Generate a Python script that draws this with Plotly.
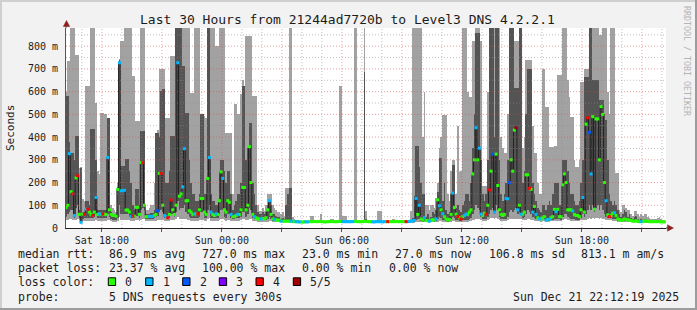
import plotly.graph_objects as go
import pandas as pd

# ---------------- data (ms), one row = one hour = 12 five-minute steps ----------------
STEP0 = "2025-12-20 16:10:00"
RANGE_START = "2025-12-20 16:12:19"
RANGE_END = "2025-12-21 22:12:19"

ping_min = [
    35,35,40,40,35,35,35,40,35,25,30,30,
    30,30,30,30,30,30,35,30,30,30,30,30,
    30,35,35,30,28,28,28,30,50,35,35,35,
    35,35,35,30,30,30,35,35,30,35,40,40,
    30,30,30,30,30,30,30,35,35,35,35,30,
    30,30,30,35,35,35,40,50,40,40,40,40,
    40,35,35,30,30,30,30,30,35,35,35,30,
    30,40,45,30,30,30,30,30,35,40,40,35,
    30,35,35,30,30,30,30,30,30,35,40,40,
    35,35,40,40,30,30,30,28,28,28,28,28,
    28,28,30,30,28,28,26,26,26,25,25,25,
    25,25,25,25,24,24,24,23,23,23,23,23,
    22,22,22,22,22,23,22,22,23,22,22,22,
    22,22,23,22,22,22,22,22,23,23,22,22,
    22,22,22,22,22,23,23,22,22,22,22,23,
    22,22,22,22,21,21,22,22,22,22,21,22,
    22,22,22,22,22,22,22,22,22,22,22,22,
    22,22,22,23,24,24,28,28,28,26,25,26,
    25,25,24,25,26,25,26,28,30,30,28,28,
    25,25,25,28,30,30,28,28,28,25,28,28,
    28,28,30,30,35,35,40,40,40,35,30,30,
    30,35,40,45,45,40,45,40,35,30,30,30,
    30,35,40,40,40,40,40,40,40,40,35,35,
    35,40,40,35,35,30,30,30,30,28,30,30,
    28,28,28,30,30,30,30,30,30,30,35,40,
    40,35,35,30,30,30,30,30,30,35,35,35,
    35,40,45,40,45,40,45,45,40,45,40,40,
    35,35,35,35,30,30,30,28,28,26,26,26,
    26,26,26,25,25,25,25,24,24,24,24,24,
    24,24,24,24,24,24,24,24,24,23,23,23,
]

ping_lo = [
    50,60,70,80,80,45,90,100,45,26,40,45,
    45,45,45,45,45,50,60,45,45,45,45,45,
    45,60,50,40,35,35,35,45,100,60,60,60,
    60,60,50,45,45,45,55,55,45,80,90,80,
    40,40,40,40,40,45,50,55,70,80,70,45,
    45,40,45,60,60,50,70,120,80,90,90,100,
    70,60,50,45,45,45,45,45,50,70,70,45,
    45,80,100,45,45,45,45,45,60,80,80,50,
    45,60,60,45,40,40,45,45,45,50,70,70,
    50,60,90,80,45,40,38,35,35,35,35,35,
    35,40,50,40,32,32,30,30,30,28,28,28,
    28,28,28,28,26,26,26,25,25,25,25,25,
    24,24,24,25,25,25,24,24,25,25,24,24,
    24,24,25,25,24,24,24,24,25,25,24,24,
    24,24,24,24,24,25,25,24,24,24,24,25,
    25,24,24,24,23,23,24,24,24,24,23,24,
    24,24,24,24,24,24,24,24,24,24,24,24,
    24,24,24,25,26,26,35,40,40,30,28,30,
    28,28,27,28,30,28,30,40,50,45,35,35,
    30,28,30,40,50,45,35,35,32,30,35,35,
    35,35,40,45,60,80,100,90,80,50,40,40,
    40,50,60,80,90,60,100,80,50,40,40,40,
    40,50,70,80,70,80,90,60,70,60,45,50,
    60,80,70,60,50,45,40,40,35,35,40,40,
    32,32,32,35,35,40,40,40,40,35,50,60,
    60,50,45,40,40,40,35,35,35,45,60,50,
    60,80,100,80,100,70,90,100,80,100,80,60,
    50,45,45,45,40,40,40,32,32,30,30,30,
    30,30,30,28,28,28,28,27,26,26,26,26,
    26,26,26,26,26,26,26,26,26,25,25,25,
]

median = [
    90,100,327,160,150,55,220,230,60,25,61,61,
    83,83,70,60,55,70,134,60,62,60,62,60,
    60,310,80,60,55,55,52,170,727,164,164,166,
    79,79,70,52,52,52,91,91,60,288,288,100,
    50,50,51,51,51,55,60,76,240,240,100,55,
    50,45,60,123,80,60,100,727,140,150,181,349,
    120,120,76,70,60,62,62,62,80,130,130,70,
    60,218,310,70,60,55,62,60,120,247,218,80,
    70,120,113,60,50,50,55,60,60,80,178,178,
    80,100,358,200,60,50,45,40,40,40,42,40,
    45,80,120,60,40,38,35,35,34,30,30,30,
    30,30,30,30,28,28,28,27,27,27,26,27,
    27,27,28,28,28,29,28,28,29,28,28,27,
    27,28,28,29,28,28,28,28,29,29,28,28,
    28,28,28,28,28,29,29,28,28,28,28,30,
    29,28,28,28,27,27,28,28,28,28,27,28,
    28,28,28,28,28,28,29,28,28,28,28,28,
    28,28,29,30,32,34,130,60,100,40,35,45,
    33,32,30,34,37,35,40,124,98,80,63,50,
    40,35,38,60,154,90,61,50,45,40,50,55,
    61,60,70,80,238,300,441,300,351,61,55,65,
    61,100,168,250,325,70,325,187,80,60,55,60,
    129,129,200,300,250,431,441,80,100,61,60,70,
    234,234,175,170,70,95,60,45,40,40,45,50,
    35,37,38,45,50,82,72,82,50,50,190,238,
    200,80,80,80,75,60,55,55,50,80,134,70,
    457,485,421,238,490,83,480,480,300,534,500,200,
    120,58,50,55,65,67,55,40,37,33,35,40,
    38,36,35,33,30,30,32,30,28,28,28,30,
    32,29,28,28,28,28,28,28,28,27,27,27,
]

ping_hi = [
    580,580,380,330,330,300,405,405,80,266,70,70,
    120,120,100,434,434,434,300,80,80,80,80,80,
    80,485,485,70,60,60,60,180,740,273,273,273,
    303,303,250,200,100,80,171,171,100,427,427,427,
    60,60,60,65,65,80,420,420,400,602,610,610,
    200,200,250,405,405,405,950,950,950,950,712,712,
    507,507,300,200,150,150,120,120,150,500,500,150,
    150,950,950,150,120,120,100,100,250,300,300,250,
    200,250,250,150,80,100,120,150,150,200,624,624,
    300,350,463,463,200,150,100,70,60,60,70,60,
    70,100,120,100,60,60,55,50,50,40,45,40,
    100,150,178,178,35,32,30,30,30,29,29,30,
    30,30,32,35,35,31,30,30,31,33,30,30,
    30,31,31,32,30,30,30,30,35,35,33,33,
    33,32,31,30,30,31,31,30,30,30,30,686,
    40,31,30,30,30,30,31,34,34,33,30,30,
    30,30,30,30,31,31,32,31,30,30,30,30,
    30,30,31,35,45,139,361,361,270,200,150,150,
    50,60,40,50,70,60,80,160,307,307,120,200,
    80,60,70,150,278,278,90,100,80,70,100,120,
    150,150,120,200,350,500,856,856,856,300,150,120,
    150,300,950,950,950,400,950,950,300,150,120,150,
    200,300,950,950,950,614,614,614,950,950,200,250,
    500,700,700,700,200,150,120,90,80,70,100,100,
    80,100,120,100,150,200,200,200,100,100,300,300,
    300,250,200,150,150,120,100,100,120,200,300,665,
    665,663,950,950,650,650,650,650,563,563,563,500,
    475,300,150,120,100,120,100,80,60,50,60,80,
    70,50,60,45,40,50,55,40,35,40,35,40,
    40,35,32,32,32,32,32,32,32,30,30,30,
]

ping_max = [
    600,734,734,950,950,950,763,763,266,270,127,120,
    627,627,627,950,950,950,551,250,237,507,507,500,
    500,485,485,100,90,80,70,200,745,822,822,950,
    950,950,950,950,668,668,470,470,470,950,950,950,
    80,80,90,100,100,200,420,430,700,700,700,700,
    485,485,485,756,756,756,950,950,950,950,950,950,
    950,950,950,595,595,950,950,950,950,495,495,495,
    485,950,950,950,950,950,800,800,950,950,950,950,
    420,420,420,420,150,544,544,500,500,588,650,588,
    843,843,843,843,580,580,580,100,76,76,90,76,
    100,150,150,150,100,90,80,70,70,60,70,55,
    178,178,950,950,50,40,35,35,33,32,32,35,
    32,32,33,51,51,33,32,32,33,63,32,32,
    32,33,33,41,41,32,32,32,624,624,54,54,
    54,34,33,32,32,950,950,32,32,33,32,950,
    77,33,32,32,32,33,34,77,77,77,32,32,
    33,32,32,32,41,41,34,33,32,32,32,33,
    32,32,35,75,950,950,950,950,950,950,400,600,
    100,102,80,102,100,90,130,200,350,400,497,497,
    497,150,120,250,300,300,150,450,248,250,950,950,
    950,600,576,576,825,825,950,950,950,825,183,183,
    183,600,950,950,950,950,950,950,950,400,350,329,
    329,500,950,950,950,825,825,825,950,950,350,400,
    740,740,740,740,450,329,329,200,150,150,699,699,
    534,534,358,358,358,363,363,672,672,672,950,950,
    950,650,577,490,490,300,270,270,300,643,643,700,
    700,700,950,950,950,950,950,950,848,848,950,950,
    950,600,500,950,950,950,241,241,80,70,100,100,
    90,80,80,60,55,73,73,60,50,60,55,60,
    60,50,45,40,40,40,40,45,50,40,35,35,
]

loss = [
    0,0,1,0,4,1,0,4,0,1,0,4,
    1,4,0,0,4,0,1,0,1,0,4,0,
    0,1,0,0,0,0,0,0,1,1,1,1,
    0,0,0,1,4,0,0,0,0,0,4,0,
    0,0,1,1,1,0,0,2,0,4,0,1,
    1,4,0,4,0,0,0,1,0,0,1,1,
    0,0,0,0,0,1,0,4,0,0,0,0,
    0,0,1,1,0,0,1,0,0,0,1,0,
    0,0,0,1,0,0,0,1,0,0,0,0,
    0,0,0,0,0,1,0,0,0,1,0,0,
    0,0,1,0,0,1,0,0,0,1,0,0,
    0,0,0,1,0,0,1,0,1,0,0,0,
    1,1,0,0,0,0,0,0,0,0,0,0,
    0,0,0,0,0,0,0,0,0,0,1,1,
    1,1,1,1,1,0,0,0,0,0,0,0,
    0,0,0,0,1,1,1,1,1,1,1,1,
    0,4,0,0,0,0,0,0,0,0,0,0,
    4,1,1,1,1,1,1,0,1,0,0,1,
    0,0,1,0,0,0,1,0,1,0,1,0,
    0,0,0,0,1,0,0,4,0,4,0,1,
    1,0,0,0,0,0,1,0,1,1,0,0,
    4,0,4,0,2,1,0,0,0,0,0,0,
    1,1,2,0,0,0,5,1,0,1,0,0,
    0,0,4,0,1,0,1,0,1,0,0,0,
    1,0,1,0,0,0,1,0,0,0,0,0,
    0,0,0,0,1,0,0,0,0,0,1,0,
    0,4,2,1,0,0,0,0,0,0,0,0,
    1,0,4,0,0,1,0,0,0,0,0,0,
    0,0,0,0,0,0,0,0,0,1,0,0,
    0,0,0,0,0,0,0,0,0,0,0,0,
]

loss_labels = ["0", "1", "2", "3", "4", "5/5"]
loss_colors = ["#26ff00", "#00b8ff", "#0059ff", "#7e00ff", "#ff0000", "#a10000"]

x_tick_times = ["2025-12-20 18:00", "2025-12-20 21:00", "2025-12-21 00:00", "2025-12-21 03:00",
                "2025-12-21 06:00", "2025-12-21 09:00", "2025-12-21 12:00", "2025-12-21 15:00",
                "2025-12-21 18:00", "2025-12-21 21:00"]
x_tick_text = ["Sat 18:00", "", "Sun 00:00", "", "Sun 06:00", "", "Sun 12:00", "", "Sun 18:00", ""]
y_tick_vals = [0, 100, 200, 300, 400, 500, 600, 700, 800]
y_tick_text = ["0", "100 m", "200 m", "300 m", "400 m", "500 m", "600 m", "700 m", "800 m"]

title_text = "Last 30 Hours from 21244ad7720b to Level3 DNS 4.2.2.1"
legend_rows = [
    [("median rtt:", 16), ("86.9 ms avg", 107.3), ("727.0 ms max", 200), ("23.0 ms min", 300),
     ("27.0 ms now", 393.3), ("106.8 ms sd", 486.7), ("813.1 m am/s", 579.3)],
    [("packet loss:", 16), ("23.37 % avg", 107.3), ("100.00 % max", 200), ("0.00 % min", 300),
     ("0.00 % now", 386.7)],
    [("loss color:", 16)],
    [("probe:", 16), ("5 DNS requests every 300s", 107.3)],
]
stamp_text = "Sun Dec 21 22:12:19 2025"

# ---------------- figure ----------------
W, H = 697, 310
PL, PR, PT, PB = 66, 31, 28, 82
PW, PH = W - PL - PR, H - PT - PB
MONO = "DejaVu Sans Mono"
TXT = "#1c1c1c"
LIGHT, DARK, MED = "#a2a2a2", "#545454", "#202020"


def px(x):
    return (x - PL) / PW


def py(y):
    return (PT + PH - y) / PH


n = len(median)
assert all(len(a) == n for a in (ping_min, ping_lo, ping_hi, ping_max, loss))
step = pd.Timedelta(minutes=5)
t_start = pd.date_range(STEP0, periods=n, freq="5min")
t_mid = t_start + step / 2

fig = go.Figure()
fig.add_trace(go.Bar(x=t_start, base=ping_min, y=[b - a for a, b in zip(ping_min, ping_max)],
                     width=step.total_seconds() * 1000, offset=0,
                     marker=dict(color=LIGHT, line=dict(width=0)), hoverinfo="skip"))
fig.add_trace(go.Bar(x=t_start, base=ping_lo, y=[b - a for a, b in zip(ping_lo, ping_hi)],
                     width=step.total_seconds() * 1000, offset=0,
                     marker=dict(color=DARK, line=dict(width=0)), hoverinfo="skip"))
fig.add_trace(go.Scatter(x=list(t_start) + [t_start[-1] + step], y=median + [median[-1]],
                         mode="lines", line=dict(color=MED, width=1, shape="hv"), hoverinfo="skip"))
for lvl, col in enumerate(loss_colors):
    xs = [t for t, l in zip(t_mid, loss) if l == lvl]
    ys = [m for m, l in zip(median, loss) if l == lvl]
    if xs:
        fig.add_trace(go.Scatter(x=xs, y=ys, mode="markers",
                                 marker=dict(symbol="square", size=3, color=col, line=dict(width=0)),
                                 hoverinfo="skip"))

shapes = []
# grid drawn above the smoke, like rrdtool
hours = pd.date_range("2025-12-20 17:00", "2025-12-21 22:00", freq="1h")
for h in hours:
    major = h.hour % 3 == 0
    shapes.append(dict(type="line", xref="x", yref="paper", x0=h, x1=h, y0=0, y1=1, layer="above",
                       line=dict(color="rgba(215,80,80,0.55)" if major else "rgba(140,140,140,0.55)",
                                 width=1, dash="1px,2px")))
for v in range(50, 900, 50):
    major = v % 100 == 0
    shapes.append(dict(type="line", xref="paper", yref="y", x0=0, x1=1, y0=v, y1=v, layer="above",
                       line=dict(color="rgba(215,80,80,0.55)" if major else "rgba(140,140,140,0.55)",
                                 width=1, dash="1px,2px")))
# axis extensions and arrows
AX = "#8c2020"
shapes.append(dict(type="line", xref="paper", yref="paper", x0=px(66), x1=px(66), y0=1, y1=py(23),
                   line=dict(color="#555555", width=1)))
shapes.append(dict(type="line", xref="paper", yref="paper", x0=1, x1=px(669), y0=0, y1=0,
                   line=dict(color="#222222", width=1)))
shapes.append(dict(type="path", xref="paper", yref="paper", fillcolor=AX, line=dict(color=AX, width=0.5),
                   path=f"M {px(63.3)} {py(26.5)} L {px(66.5)} {py(20.5)} L {px(69.7)} {py(26.5)} Z"))
shapes.append(dict(type="path", xref="paper", yref="paper", fillcolor=AX, line=dict(color=AX, width=0.5),
                   path=f"M {px(667.5)} {py(224.8)} L {px(673.5)} {py(228)} L {px(667.5)} {py(231.2)} Z"))
# 3d frame
shapes.append(dict(type="line", xref="paper", yref="paper", x0=px(0), x1=px(W), y0=py(1), y1=py(1),
                   line=dict(color="#cfcfcf", width=2)))
shapes.append(dict(type="line", xref="paper", yref="paper", x0=px(1), x1=px(1), y0=py(0), y1=py(H),
                   line=dict(color="#cfcfcf", width=2)))
shapes.append(dict(type="line", xref="paper", yref="paper", x0=px(0), x1=px(W), y0=py(H - 1), y1=py(H - 1),
                   line=dict(color="#9c9c9c", width=2)))
shapes.append(dict(type="line", xref="paper", yref="paper", x0=px(W - 1), x1=px(W - 1), y0=py(0), y1=py(H),
                   line=dict(color="#9c9c9c", width=2)))

annotations = []
annotations.append(dict(text=title_text, xref="paper", yref="paper", x=px(347.5), y=py(19),
                        xanchor="center", yanchor="middle", showarrow=False,
                        font=dict(family=MONO, size=13, color=TXT)))
annotations.append(dict(text="Seconds", xref="paper", yref="paper", x=px(10), y=py(128), textangle=-90,
                        xanchor="center", yanchor="middle", showarrow=False,
                        font=dict(family=MONO, size=11, color=TXT)))
annotations.append(dict(text="RRDTOOL / TOBI OETIKER", xref="paper", yref="paper", x=px(687), y=py(61),
                        textangle=90, xanchor="center", yanchor="middle", showarrow=False,
                        font=dict(family=MONO, size=8.3, color="#b4b4b4")))
row_y = [254, 268.3, 281.7, 296.7]
for ry, row in zip(row_y, legend_rows):
    for txt, x in row:
        annotations.append(dict(text=txt.replace(" ", "&nbsp;"), xref="paper", yref="paper", x=px(x), y=py(ry),
                                xanchor="left", yanchor="middle", showarrow=False,
                                font=dict(family=MONO, size=11.5, color=TXT)))
annotations.append(dict(text=stamp_text, xref="paper", yref="paper", x=px(680.5), y=py(296.7),
                        xanchor="right", yanchor="middle", showarrow=False,
                        font=dict(family=MONO, size=11.5, color=TXT)))
sw_x = [108.3, 145.7, 182.7, 219.3, 256.0, 293.3]
for i, (lab, col) in enumerate(zip(loss_labels, loss_colors)):
    x0 = sw_x[i]
    shapes.append(dict(type="rect", xref="paper", yref="paper", x0=px(x0), x1=px(x0 + 7.3),
                       y0=py(285.5), y1=py(277.8), fillcolor=col, line=dict(color="#000000", width=1)))
    annotations.append(dict(text=lab, xref="paper", yref="paper", x=px(x0 + 15), y=py(281.7),
                            xanchor="left", yanchor="middle", showarrow=False,
                            font=dict(family=MONO, size=11.5, color=TXT)))

fig.update_layout(
    width=W, height=H, autosize=False,
    margin=dict(l=PL, r=PR, t=PT, b=PB, pad=0),
    paper_bgcolor="#f2f2f2", plot_bgcolor="#ffffff",
    showlegend=False, barmode="overlay", bargap=0,
    shapes=shapes, annotations=annotations,
    xaxis=dict(type="date", range=[RANGE_START, RANGE_END], showgrid=False, zeroline=False,
               tickmode="array", tickvals=x_tick_times, ticktext=x_tick_text,
               ticks="outside", ticklen=3, tickcolor="#555555", tickwidth=1,
               showline=True, linecolor="#222222", linewidth=1,
               tickfont=dict(family=MONO, size=10, color=TXT), fixedrange=True),
    yaxis=dict(range=[0, 880], showgrid=False, zeroline=False,
               tickmode="array", tickvals=y_tick_vals, ticktext=y_tick_text,
               ticks="", ticklabelstandoff=5, showline=True, linecolor="#555555", linewidth=1,
               tickfont=dict(family=MONO, size=10, color=TXT), fixedrange=True),
)

fig.write_html("out.html", config={"displayModeBar": False, "staticPlot": True})
